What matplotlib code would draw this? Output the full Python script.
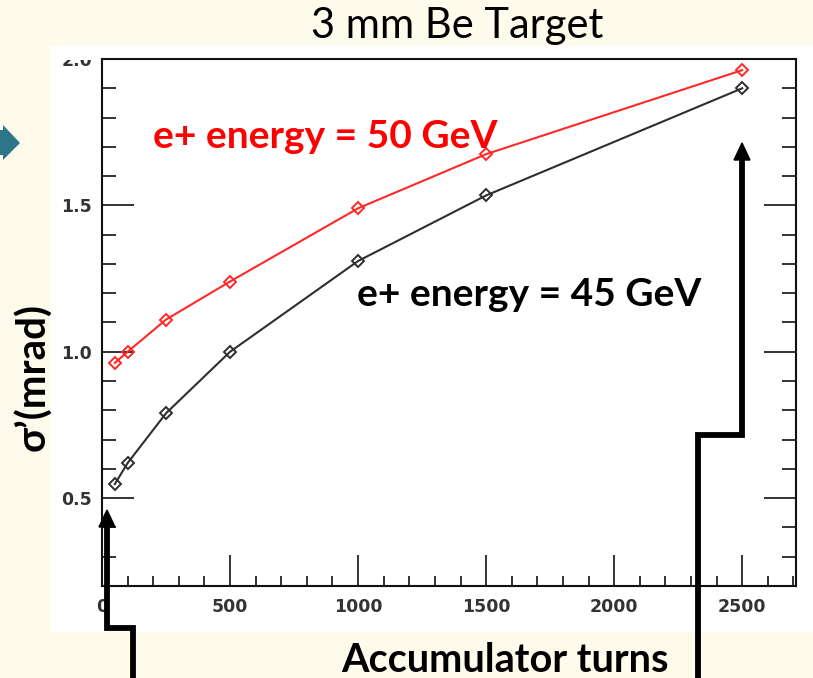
import matplotlib
matplotlib.use("Agg")
import matplotlib.pyplot as plt
from matplotlib.lines import Line2D
from matplotlib.patches import Polygon, Rectangle
from matplotlib.ticker import MultipleLocator, FixedLocator

# ---- data ----
turns = [50, 100, 250, 500, 1000, 1500, 2500]
sigma_50 = [0.962, 1.00, 1.11, 1.24, 1.49, 1.675, 1.962]
sigma_45 = [0.548, 0.62, 0.79, 1.00, 1.31, 1.534, 1.90]
label_50 = "e+ energy = 50 GeV"
label_45 = "e+ energy = 45 GeV"
title = "3 mm Be Target"
xlabel = "Accumulator turns"
ylabel = "σ’(mrad)"
xticks = [0, 500, 1000, 1500, 2000, 2500]
yticks = [0.5, 1.0, 1.5, 2.0]
ytick_labels = ["0.5", "1.0", "1.5", "2.0"]

W, H = 813, 678
fig = plt.figure(figsize=(W / 100, H / 100), dpi=100)
fig.patch.set_facecolor("#FEFAEC")

def fx(px):
    return px / W

def fy(py):
    return 1 - py / H

# white panel
fig.patches.append(Rectangle((fx(50), fy(632)), fx(813) - fx(50), fy(46) - fy(632),
                             transform=fig.transFigure, facecolor="white",
                             edgecolor="none", zorder=-5))

ax = fig.add_axes([fx(102), fy(586), fx(796) - fx(102), fy(59) - fy(586)])
ax.set_facecolor("white")
ax.set_xlim(0, 2710)
ax.set_ylim(0.2, 2.0)

ax.plot(turns, sigma_50, color="#FF2828", lw=1.5, marker="D", ms=6,
        mfc="none", mec="#FF2828", mew=1.4, zorder=3)
ax.plot(turns, sigma_45, color="#2E2E2E", lw=1.5, marker="D", ms=6,
        mfc="none", mec="#2E2E2E", mew=1.4, zorder=3)

for s in ax.spines.values():
    s.set_linewidth(1.5)
    s.set_color("#111111")

ax.xaxis.set_major_locator(FixedLocator(xticks))
ax.xaxis.set_minor_locator(MultipleLocator(100))
ax.yaxis.set_major_locator(FixedLocator(yticks))
ax.set_yticklabels(ytick_labels)
ax.yaxis.set_minor_locator(MultipleLocator(0.1))
ax.tick_params(axis="both", which="both", direction="in", colors="#111111",
               width=1.2, labelsize=12.5, labelcolor="#333333")
ax.tick_params(axis="x", which="major", length=22, top=False, pad=9)
ax.tick_params(axis="x", which="minor", length=7, top=False)
ax.tick_params(axis="y", which="major", length=23, right=True, pad=7)
ax.tick_params(axis="y", which="minor", length=10, right=True)
for lab in ax.get_xticklabels() + ax.get_yticklabels():
    lab.set_fontweight("bold")

# the top "2.0" label is cut by the panel edge in the reference
fig.patches.append(Rectangle((fx(50), fy(60)), fx(100) - fx(50), fy(46) - fy(60),
                             transform=fig.transFigure, facecolor="white",
                             edgecolor="none", zorder=2))

# annotations
fig.text(fx(153), fy(137), label_50, color="#FF0000",
         fontsize=28, fontweight="bold", family="Lato", va="center", ha="left", zorder=5)
fig.text(fx(357), fy(295), label_45, color="black",
         fontsize=28, fontweight="bold", family="Lato", va="center", ha="left", zorder=5)

fig.text(fx(457), fy(26), title, fontsize=30, family="Lato", color="black",
         ha="center", va="center")
fig.text(fx(505), fy(660), xlabel, fontsize=28.5, family="Lato", fontweight="bold",
         color="black", ha="center", va="center")
fig.text(fx(33), fy(377), ylabel, fontsize=29, family="Lato", fontweight="bold",
         color="black", ha="center", va="center", rotation=90)

# black step arrows
def step_arrow(pts, tip):
    xs = [fx(p[0]) for p in pts]
    ys = [fy(p[1]) for p in pts]
    fig.lines.append(Line2D(xs, ys, transform=fig.transFigure, color="black",
                            lw=4.2, solid_joinstyle="miter", zorder=10))
    tx, ty = tip
    head = [(fx(tx), fy(ty)), (fx(tx - 8), fy(ty + 17)), (fx(tx + 8), fy(ty + 17))]
    fig.patches.append(Polygon(head, closed=True, transform=fig.transFigure,
                               facecolor="black", edgecolor="black", zorder=10))

step_arrow([(133, 680), (133, 628), (107, 628), (107, 522)], (107, 510))
step_arrow([(698, 680), (698, 435), (742, 435), (742, 155)], (742, 143))

# teal block arrow at left edge
teal = [(0, 130), (3, 130), (3, 125), (20, 143), (3, 160), (3, 155), (0, 155)]
fig.patches.append(Polygon([(fx(a), fy(b)) for a, b in teal], closed=True,
                           transform=fig.transFigure, facecolor="#2D7589",
                           edgecolor="none", zorder=10))

fig.savefig("out.png", dpi=100, facecolor=fig.get_facecolor())
